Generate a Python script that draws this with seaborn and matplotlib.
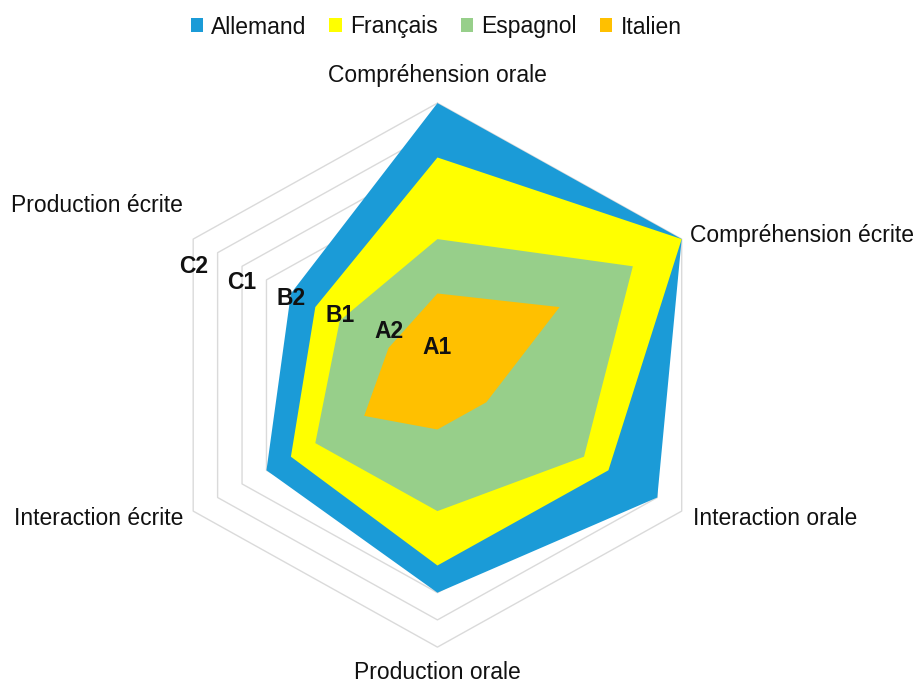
import numpy as np
import matplotlib
matplotlib.use("Agg")
import matplotlib.pyplot as plt
import seaborn as sns
from matplotlib.patches import Patch

# ---- data ----
categories = ["Compréhension orale", "Compréhension écrite", "Interaction orale",
              "Production orale", "Interaction écrite", "Production écrite"]
allemand = [10, 10, 9, 8, 7, 6]
francais = [8, 10, 7, 7, 6, 5]
espagnol = [5, 8, 6, 5, 5, 4]
italien = [3, 5, 2, 2, 3, 2]
series_names = ["Allemand", "Français", "Espagnol", "Italien"]
level_labels = ["A1", "A2", "B1", "B2", "C1", "C2"]
level_values = [0, 2, 4, 6, 8, 10]
max_value = 10

# ---- style ----
colors = ["#1B9BD7", "#FFFF00", "#97CF8A", "#FFC000"]
grid_color = "#DADADA"

sns.set_theme(style="white")
plt.rcParams["font.family"] = ["Liberation Sans", "DejaVu Sans"]

fig = plt.figure(figsize=(9.2, 6.86), dpi=100)
ax = fig.add_axes([0, 0, 1, 1])
ax.set_xlim(-15.51, 17.11)
ax.set_ylim(-11.43, 13.79)
ax.axis("off")

n = len(categories)
angles = np.arange(n) * 2 * np.pi / n
sx, cy = np.sin(angles), np.cos(angles)


def to_xy(vals):
    v = np.asarray(vals, dtype=float)
    return v * sx, v * cy


# grid rings
for r in range(1, max_value + 1):
    x, y = to_xy([r] * n)
    ax.plot(np.r_[x, x[0]], np.r_[y, y[0]], color=grid_color, lw=1.0, zorder=1)

# series polygons
for name, vals, col in zip(series_names, [allemand, francais, espagnol, italien], colors):
    x, y = to_xy(vals)
    ax.fill(x, y, color=col, lw=0, zorder=2, label=name)

# level labels along the "Production écrite" direction
for lab, v in zip(level_labels, level_values):
    ax.text(v * sx[5], 1.0 + 0.3 * v, lab, ha="center", va="center",
            fontsize=16.5, fontweight="bold", color="#111111", zorder=5)

# category labels
label_pos = [(0.0, 11.03, "center"), (8.95, 5.15, "left"), (9.06, -5.26, "left"),
             (0.0, -10.92, "center"), (-9.02, -5.26, "right"), (-9.02, 6.25, "right")]
for cat, (lx, ly, ha) in zip(categories, label_pos):
    ax.text(lx, ly, cat, ha=ha, va="center", fontsize=16.5, color="#111111")

handles = [Patch(facecolor=c, edgecolor="none", label=nm) for nm, c in zip(series_names, colors)]
fig.legend(handles=handles, loc="center", bbox_to_anchor=(436 / 920, 1 - 27 / 686),
           ncol=4, frameon=False, fontsize=16.5, handlelength=0.55, handleheight=0.55,
           handletextpad=0.35, columnspacing=1.0, labelcolor="#111111")

fig.savefig("out.png", dpi=100)
